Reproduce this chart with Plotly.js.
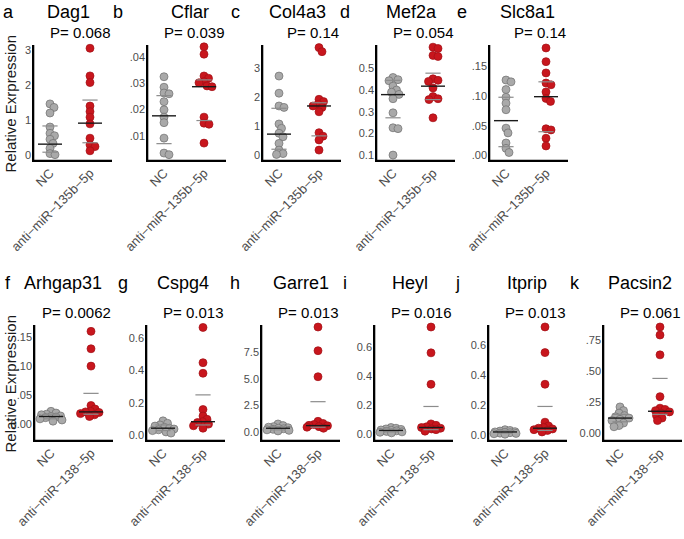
<!DOCTYPE html>
<html><head><meta charset="utf-8">
<script src="https://cdn.plot.ly/plotly-3.0.1.min.js"></script>
<style>html,body{margin:0;padding:0;background:#fff}#chart{width:684px;height:539px}</style>
</head><body><div id="chart"></div>
<script>
// ---------------- DATA ----------------
const genes   = ['Dag1','Cflar','Col4a3','Mef2a','Slc8a1','Arhgap31','Cspg4','Garre1','Heyl','Itprip','Pacsin2'];
const letters = ['a','b','c','d','e','f','g','h','i','j','k'];
const pTexts  = ['P= 0.068','P= 0.039','P= 0.14','P= 0.054','P= 0.14','P= 0.0062','P= 0.013','P= 0.013','P= 0.016','P= 0.013','P= 0.061'];
const groupsTop    = ['NC','anti\u2212miR\u2212135b\u22125p'];
const groupsBottom = ['NC','anti\u2212miR\u2212138\u22125p'];
const yTitle = 'Relative Exrpression';

// expression values (NC = grey, anti = red)
const dag1NC     = [1.46,1.36,1.2,0.8,0.62,0.55,0.45,0.33,0.19,0.04,0.01];
const dag1Anti   = [3.05,2.26,2.07,1.4,1.24,1.08,0.89,0.48,0.29,0.24,0.12];
const cflarNC    = [0.0325,0.0285,0.0263,0.026,0.023,0.0199,0.0171,0.015,0.0091,0.0034,0.0028];
const cflarAnti  = [0.0439,0.0411,0.0328,0.0319,0.0306,0.0302,0.029,0.0287,0.0171,0.0148,0.0144,0.0072];
const col4a3NC   = [2.72,2.13,1.69,1.64,1.07,0.92,0.75,0.63,0.4,0.17,0.05,0.02];
const col4a3Anti = [3.7,3.56,1.92,1.84,1.75,1.69,1.64,1.49,0.77,0.65,0.52,0.17];
const mef2aNC    = [0.458,0.448,0.443,0.418,0.40,0.39,0.38,0.36,0.295,0.226,0.222,0.10];
const mef2aAnti  = [0.598,0.592,0.56,0.555,0.452,0.445,0.44,0.41,0.37,0.36,0.356,0.272];
const slc8a1NC   = [0.127,0.124,0.111,0.098,0.088,0.077,0.046,0.038,0.021,0.012,0.005];
const slc8a1Anti = [0.181,0.158,0.139,0.122,0.119,0.107,0.096,0.091,0.045,0.043,0.029,0.016];
const arhgap31NC   = [0.022,0.019,0.017,0.016,0.014,0.013,0.012,0.011,0.009,0.007,0.005];
const arhgap31Anti = [0.16,0.13,0.10,0.032,0.026,0.022,0.021,0.02,0.018,0.016,0.013];
const cspg4NC      = [0.09,0.075,0.065,0.058,0.05,0.045,0.04,0.035,0.03,0.022,0.015];
const cspg4Anti    = [0.665,0.448,0.383,0.16,0.12,0.1,0.085,0.08,0.07,0.06,0.045];
const garre1NC     = [0.75,0.6,0.5,0.45,0.4,0.35,0.3,0.25,0.2,0.15,0.1];
const garre1Anti   = [9.84,7.62,5.18,1.0,0.8,0.7,0.62,0.58,0.5,0.45,0.35];
const heylNC       = [0.045,0.04,0.035,0.032,0.028,0.025,0.022,0.018,0.015,0.012,0.008];
const heylAnti     = [0.738,0.56,0.343,0.07,0.06,0.05,0.045,0.04,0.035,0.03,0.02];
const itpripNC     = [0.035,0.03,0.026,0.022,0.02,0.018,0.015,0.012,0.01,0.008,0.005];
const itpripAnti   = [0.72,0.549,0.338,0.085,0.06,0.05,0.045,0.04,0.035,0.03,0.02];
const pacsin2NC    = [0.21,0.18,0.16,0.14,0.13,0.12,0.11,0.1,0.08,0.06,0.05];
const pacsin2Anti  = [0.855,0.79,0.63,0.293,0.2,0.19,0.18,0.17,0.16,0.14,0.12,0.1];

// summary lines [Q1, median, Q3]
const dag1NCLines = [0.08,0.31,0.83],        dag1AntiLines = [0.35,0.91,1.57];
const cflarNCLines = [0.0070,0.0176,0.0253], cflarAntiLines = [0.0158,0.0287,0.0313];
const col4a3NCLines = [0.2,0.72,1.61],       col4a3AntiLines = [0.66,1.69,1.8];
const mef2aNCLines = [0.272,0.379,0.445],    mef2aAntiLines = [0.356,0.418,0.478];
const slc8a1NCLines = [0.0148,0.0586,0.098], slc8a1AntiLines = [0.040,0.099,0.124];
const arhgap31NCLines = [0.009,0.013,0.017], arhgap31AntiLines = [0.017,0.021,0.053];
const cspg4NCLines = [0.03,0.045,0.065],     cspg4AntiLines = [0.065,0.085,0.25];
const garre1NCLines = [0.2,0.35,0.5],        garre1AntiLines = [0.45,0.6,2.84];
const heylNCLines = [0.015,0.025,0.035],     heylAntiLines = [0.03,0.045,0.19];
const itpripNCLines = [0.012,0.02,0.03],     itpripAntiLines = [0.03,0.045,0.19];
const pacsin2NCLines = [0.09,0.12,0.15],     pacsin2AntiLines = [0.15,0.175,0.44];

// y tick values / labels
const dag1Ticks = [0,1,2,3],                 dag1TickText = ['0','1','2','3'];
const cflarTicks = [0.01,0.02,0.03,0.04],    cflarTickText = ['.01','.02','.03','.04'];
const col4a3Ticks = [0,1,2,3],               col4a3TickText = ['0','1','2','3'];
const mef2aTicks = [0.1,0.2,0.3,0.4,0.5],    mef2aTickText = ['0.1','0.2','0.3','0.4','0.5'];
const slc8a1Ticks = [0,0.05,0.10,0.15],      slc8a1TickText = ['.00','.05','.10','.15'];
const arhgap31Ticks = [0,0.05,0.10,0.15],    arhgap31TickText = ['0.00','.05','.10','.15'];
const cspg4Ticks = [0,0.2,0.4,0.6],          cspg4TickText = ['0.0','0.2','0.4','0.6'];
const garre1Ticks = [0,2.5,5,7.5],           garre1TickText = ['0.0','2.5','5.0','7.5'];
const heylTicks = [0,0.2,0.4,0.6],           heylTickText = ['0.0','0.2','0.4','0.6'];
const itpripTicks = [0,0.2,0.4,0.6],         itpripTickText = ['0.0','0.2','0.4','0.6'];
const pacsin2Ticks = [0,0.25,0.5,0.75],      pacsin2TickText = ['0.00','.25','.50','.75'];

// ---------------- LAYOUT / STYLE ----------------
const W = 684, H = 539;
const panels = [
  {nc:dag1NC, anti:dag1Anti, ncL:dag1NCLines, antiL:dag1AntiLines, tv:dag1Ticks, tt:dag1TickText, yr:[-0.2,3.143]},
  {nc:cflarNC, anti:cflarAnti, ncL:cflarNCLines, antiL:cflarAntiLines, tv:cflarTicks, tt:cflarTickText, yr:[0,0.0446]},
  {nc:col4a3NC, anti:col4a3Anti, ncL:col4a3NCLines, antiL:col4a3AntiLines, tv:col4a3Ticks, tt:col4a3TickText, yr:[-0.24,3.79]},
  {nc:mef2aNC, anti:mef2aAnti, ncL:mef2aNCLines, antiL:mef2aAntiLines, tv:mef2aTicks, tt:mef2aTickText, yr:[0.068,0.608]},
  {nc:slc8a1NC, anti:slc8a1Anti, ncL:slc8a1NCLines, antiL:slc8a1AntiLines, tv:slc8a1Ticks, tt:slc8a1TickText, yr:[-0.011,0.186]},
  {nc:arhgap31NC, anti:arhgap31Anti, ncL:arhgap31NCLines, antiL:arhgap31AntiLines, tv:arhgap31Ticks, tt:arhgap31TickText, yr:[-0.031,0.171]},
  {nc:cspg4NC, anti:cspg4Anti, ncL:cspg4NCLines, antiL:cspg4AntiLines, tv:cspg4Ticks, tt:cspg4TickText, yr:[-0.04,0.68]},
  {nc:garre1NC, anti:garre1Anti, ncL:garre1NCLines, antiL:garre1AntiLines, tv:garre1Ticks, tt:garre1TickText, yr:[-0.94,10.03]},
  {nc:heylNC, anti:heylAnti, ncL:heylNCLines, antiL:heylAntiLines, tv:heylTicks, tt:heylTickText, yr:[-0.055,0.752]},
  {nc:itpripNC, anti:itpripAnti, ncL:itpripNCLines, antiL:itpripAntiLines, tv:itpripTicks, tt:itpripTickText, yr:[-0.047,0.733]},
  {nc:pacsin2NC, anti:pacsin2Anti, ncL:pacsin2NCLines, antiL:pacsin2AntiLines, tv:pacsin2Ticks, tt:pacsin2TickText, yr:[-0.073,0.871]}
];
const lefts   = [32,146,261,375,488, 33,145,260,373,487,602];
const plotW = 80;
const rowTop = [45, 325], rowBot = [162, 442];
const letterX = [8,118,235,345,462, 8,123,235,345,457,575];
const geneX   = [68,190,297,411,527, 63,183,301,410,527,640];
const titleY  = [12, 283], pY = [33, 312];
const xRange = [0.55, 2.55];
const axisColor = '#000000', axisW = 2.3;

const px = x => x / W;
const py = y => 1 - y / H;

// compact jitter: place each dot as near the centre as possible, allowing partial overlap
function swarm(values, pxPerY, pxPerX, d, maxOff) {
  const order = values.map((v,i)=>i).sort((a,b)=>values[b]-values[a]);
  const placed = [], off = new Array(values.length).fill(0);
  for (const i of order) {
    const y = values[i]*pxPerY;
    let best = 0, bestCost = Infinity;
    for (let k = 0; k < 2*maxOff*2+1; k++) {
      const c = (k % 2 === 1 ? 1 : -1) * Math.ceil(k/2) * 0.5;
      let cost = 0;
      for (const p of placed) {
        const dx = c - p.x, dy = y - p.y, dist = Math.sqrt(dx*dx + dy*dy);
        if (dist < d) cost += (d - dist);
      }
      if (cost === 0) { best = c; bestCost = 0; break; }
      if (cost < bestCost - 1e-9) { bestCost = cost; best = c; }
    }
    off[i] = best / pxPerX; placed.push({x:best, y:y});
  }
  return off;
}

const traces = [], annotations = [], shapes = [];
const layout = {
  width: W, height: H, margin: {l:0, r:0, t:0, b:0, pad:0},
  paper_bgcolor: '#fff', plot_bgcolor: 'rgba(0,0,0,0)', showlegend: false,
  font: {family: 'Liberation Sans, Arial, sans-serif', color: '#000'},
  annotations: annotations, shapes: shapes
};

panels.forEach((p, i) => {
  const n = i + 1, row = i < 5 ? 0 : 1;
  const xa = 'x' + (n === 1 ? '' : n), ya = 'y' + (n === 1 ? '' : n);
  const groups = row === 0 ? groupsTop : groupsBottom;
  const hpx = rowBot[row] - rowTop[row];
  const pxPerY = hpx / (p.yr[1] - p.yr[0]);
  const pxPerX = plotW / (xRange[1] - xRange[0]);

  layout['xaxis' + (n === 1 ? '' : n)] = {
    domain: [px(lefts[i]), px(lefts[i] + plotW)], anchor: ya, range: xRange,
    tickvals: [1, 2], ticktext: groups, tickangle: -45, ticks: '',
    tickfont: {size: 13, color: '#4d4d4d'},
    showline: false, showgrid: false, zeroline: false, fixedrange: true
  };
  layout['yaxis' + (n === 1 ? '' : n)] = {
    domain: [py(rowBot[row]), py(rowTop[row])], anchor: xa, range: p.yr,
    tickvals: p.tv, ticktext: p.tt, ticks: '', tickfont: {size: 11, color: '#4d4d4d'},
    showline: false, showgrid: false, zeroline: false, fixedrange: true
  };
  // L-shaped axis frame drawn as filled bars inside the plot area (paper coordinates)
  shapes.push({type:'rect', xref:'paper', yref:'paper', layer:'above',
    x0: px(lefts[i]), x1: px(lefts[i] + plotW), y0: py(rowBot[row]), y1: py(rowBot[row] - axisW),
    fillcolor: axisColor, line: {width: 0}});
  shapes.push({type:'rect', xref:'paper', yref:'paper', layer:'above',
    x0: px(lefts[i]), x1: px(lefts[i] + axisW), y0: py(rowBot[row]), y1: py(rowTop[row]),
    fillcolor: axisColor, line: {width: 0}});

  [[p.nc, 1, '#a9a9a9', '#6e6e6e'], [p.anti, 2, '#c8161d', '#a01016']].forEach(([vals, cx, fill, edge]) => {
    const off = swarm(vals, pxPerY, pxPerX, 5, 11);
    traces.push({
      type: 'scatter', mode: 'markers', xaxis: xa, yaxis: ya, hoverinfo: 'skip', cliponaxis: false,
      x: vals.map((v, k) => cx + off[k]), y: vals,
      marker: {size: 8, color: fill, line: {color: edge, width: 0.7}}
    });
  });
  [[p.ncL, 1], [p.antiL, 2]].forEach(([L, cx]) => {
    L.forEach((v, k) => {
      const med = k === 1, hw = med ? 0.3 : 0.19;
      traces.push({
        type: 'scatter', mode: 'lines', xaxis: xa, yaxis: ya, hoverinfo: 'skip',
        x: [cx - hw, cx + hw], y: [v, v],
        line: {color: med ? '#1a1a1a' : '#8c8c8c', width: med ? 1.4 : 1.2}
      });
    });
  });

  annotations.push({xref:'paper', yref:'paper', x: px(letterX[i]), y: py(titleY[row]), text: letters[i],
    showarrow:false, xanchor:'center', yanchor:'middle', font:{size:18, color:'#000'}});
  annotations.push({xref:'paper', yref:'paper', x: px(geneX[i]), y: py(titleY[row]), text: genes[i],
    showarrow:false, xanchor:'center', yanchor:'middle', font:{size:18, color:'#000'}});
  annotations.push({xref:'paper', yref:'paper', x: px(lefts[i] + plotW), y: py(pY[row]), text: pTexts[i],
    showarrow:false, xanchor:'right', yanchor:'middle', font:{size:15, color:'#000'}});
});

[0, 1].forEach(row => {
  annotations.push({xref:'paper', yref:'paper', x: px(10), y: py((rowTop[row] + rowBot[row]) / 2),
    text: yTitle, textangle: -90, showarrow:false, xanchor:'center', yanchor:'middle',
    font:{size:15, color:'#1a1a1a'}});
});

Plotly.newPlot('chart', traces, layout, {displayModeBar: false});
</script></body></html>
